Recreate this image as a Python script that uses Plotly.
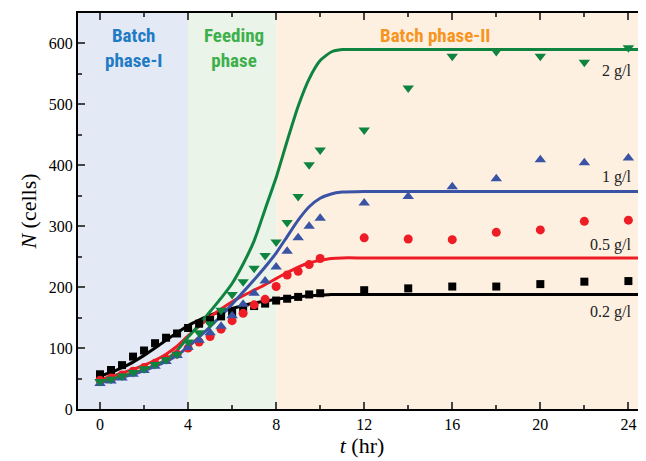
import plotly.graph_objects as go

# ---------------- data ----------------
t_meas = [0, 0.5, 1, 1.5, 2, 2.5, 3, 3.5, 4, 4.5, 5, 5.5, 6, 6.5, 7, 7.5, 8, 8.5, 9, 9.5, 10,
          12, 14, 16, 18, 20, 22, 24]

n_02 = [57, 64, 72, 86, 96, 108, 117, 124, 133, 140, 146, 152, 158, 164, 169, 173, 178, 181, 184, 188, 190,
        195, 198, 201, 201, 205, 209, 210]
n_05 = [47, 51, 56, 62, 68, 75, 82, 90, 100, 110, 119, 131, 145, 157, 171, 180, 201, 220, 226, 237, 247,
        281, 279, 278, 290, 294, 308, 310]
n_1 = [42, 46, 51, 57, 63, 70, 78, 88, 101, 113, 125, 136, 153, 172, 190, 210, 233, 259, 281, 300, 313,
       338, 349, 365, 378, 409, 404, 412]
n_2 = [45, 49, 54, 60, 66, 73, 81, 90, 110, 125, 140, 162, 188, 209, 231, 252, 274, 306, 349, 401, 425,
       458, 527, 579, 587, 579, 569, 593]

t_fit = [0, 0.5, 1, 1.5, 2, 2.5, 3, 3.5, 4, 4.5, 5, 5.5, 6, 6.5, 7, 7.5, 8, 8.5, 9, 9.5, 10, 10.5, 11,
         12, 14, 16, 18, 20, 22, 24, 24.8]
fit_02 = [54, 60, 68, 77, 88, 100, 113, 125, 137, 146, 154, 160, 165, 170, 174, 177, 180, 182, 184, 186, 187, 188, 188,
          188, 188, 188, 188, 188, 188, 188, 188]
fit_05 = [48, 53, 59, 65, 72, 80, 90, 103, 120, 136, 151, 164, 176, 186, 195, 204, 214, 224, 233, 240, 244, 247, 248,
          248, 248, 248, 248, 248, 248, 248, 248]
fit_1 = [43, 47, 52, 57, 63, 70, 78, 88, 102, 118, 135, 153, 172, 192, 212, 233, 256, 283, 310, 332, 346, 353, 356,
         357, 357, 357, 357, 357, 357, 357, 357]
fit_2 = [45, 49, 54, 59, 65, 72, 81, 96, 118, 138, 160, 182, 206, 238, 276, 328, 380, 440, 497, 542, 572, 586, 590,
         590, 590, 590, 590, 590, 590, 590, 590]

series_names = ["0.2 g/l", "0.5 g/l", "1 g/l", "2 g/l"]
phase_names = ["Batch<br>phase-I", "Feeding<br>phase", "Batch phase-II"]
phase_bounds = [-1, 4, 8, 24.8]
x_ticks = [0, 4, 8, 12, 16, 20, 24]
y_ticks = [0, 100, 200, 300, 400, 500, 600]

# ---------------- styling ----------------
colors = ["#000000", "#EE1D25", "#3A53A4", "#0F8440"]
symbols = ["square", "circle", "triangle-up", "triangle-down"]
msizes = [8, 9, 10, 10]
phase_fill = ["#E3E9F5", "#EAF4E8", "#FDF0E1"]
phase_text = ["#1F7BC4", "#3DB04B", "#F7941D"]

serif = "Liberation Serif, Times New Roman, serif"
narrow = "Liberation Sans Narrow, Arial Narrow, Roboto Condensed, Liberation Sans, sans-serif"

fig = go.Figure()

meas = [n_02, n_05, n_1, n_2]
fits = [fit_02, fit_05, fit_1, fit_2]

for i in range(4):
    fig.add_trace(go.Scatter(x=t_fit, y=fits[i], mode="lines",
                             line=dict(color=colors[i], width=3, shape="spline", smoothing=0.6),
                             showlegend=False, hoverinfo="skip"))
for i in range(4):
    fig.add_trace(go.Scatter(x=t_meas, y=meas[i], mode="markers", name=series_names[i],
                             marker=dict(color=colors[i], symbol=symbols[i], size=msizes[i],
                                         line=dict(width=0)),
                             showlegend=False))

shapes = []
for i in range(3):
    shapes.append(dict(type="rect", xref="x", yref="paper", x0=phase_bounds[i], x1=phase_bounds[i + 1],
                       y0=0, y1=1, fillcolor=phase_fill[i], line=dict(width=0), layer="below"))

annotations = []
phase_x = [1.5, 6.1, 15.2]
phase_y = [636, 636, 636]
for i in range(3):
    annotations.append(dict(x=phase_x[i], y=phase_y[i], xref="x", yref="y", text="<b>" + phase_names[i] + "</b>",
                            showarrow=False, font=dict(family=narrow, size=19, color=phase_text[i]),
                            xanchor="center", yanchor="top", align="center"))

label_y = [160, 270, 380, 555]
for i in range(4):
    annotations.append(dict(x=24.2, y=label_y[i], xref="x", yref="y", text=series_names[i],
                            showarrow=False, font=dict(family=serif, size=16, color="#222"),
                            xanchor="right", yanchor="middle"))

# page body adds an 8px offset; size the figure so the plot lands where the reference has it
fig.update_layout(
    width=638, height=453,
    margin=dict(l=70, r=0, t=5, b=52),
    paper_bgcolor="white", plot_bgcolor="white",
    shapes=shapes, annotations=annotations,
    font=dict(family=serif, size=16, color="black"),
)
fig.update_xaxes(range=[-1, 24.8], tickvals=x_ticks, ticks="inside", ticklen=7, tickwidth=1.5,
                 minor=dict(ticks="inside", dtick=2, tick0=0, ticklen=4, tickwidth=1.5),
                 showline=True, linecolor="black", linewidth=2, mirror="allticks",
                 showgrid=False, zeroline=False, automargin=False,
                 tickfont=dict(family=serif, size=16),
                 title=dict(text="<i>t</i> (hr)", font=dict(family=serif, size=22), standoff=4))
fig.update_yaxes(range=[0, 650], tickvals=y_ticks, ticks="inside", ticklen=7, tickwidth=1.5,
                 minor=dict(ticks="inside", dtick=50, tick0=0, ticklen=4, tickwidth=1.5),
                 showline=True, linecolor="black", linewidth=2, mirror="allticks",
                 showgrid=False, zeroline=False, automargin=False,
                 tickfont=dict(family=serif, size=16),
                 title=dict(text="<i>N</i> (cells)", font=dict(family=serif, size=22), standoff=6))

fig.write_html("out.html")
